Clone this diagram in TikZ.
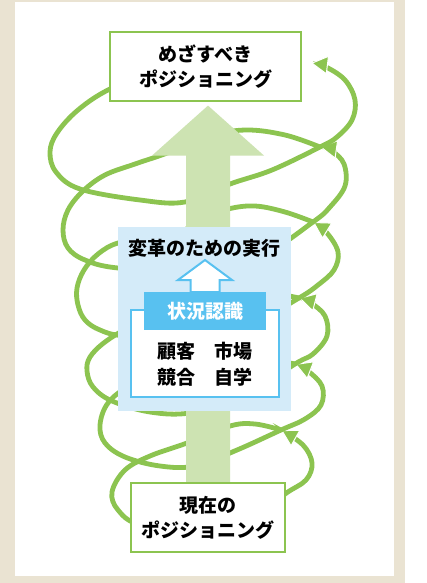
\documentclass[tikz,border=0pt]{standalone}
\usepackage{fontspec}
\setmainfont{Noto Sans CJK JP}
\usetikzlibrary{arrows.meta,calc}
\definecolor{beige}{RGB}{234,227,210}
\definecolor{coilgreen}{RGB}{140,196,80}
\definecolor{shaftgreen}{RGB}{205,227,178}
\definecolor{panelblue}{RGB}{212,235,249}
\definecolor{markblue}{RGB}{88,193,240}
\pgfdeclarelayer{frame}
\pgfdeclarelayer{back}
\pgfdeclarelayer{mid}
\pgfsetlayers{frame,back,mid,main}

\begin{document}
\begin{tikzpicture}[x=1pt, y=-1pt,
    txt/.style={font=\fontsize{19}{25}\selectfont\bfseries, align=center},
    posbox/.style={draw=coilgreen, line width=1.2pt, fill=white, minimum height=69pt, inner sep=0pt, txt},
    coil/.style={draw=coilgreen, line width=4.8pt,
      -{Triangle[color=white, fill=coilgreen, length=17pt, width=19pt, line width=1pt]}},
  ]
  \useasboundingbox (0,0) rectangle (426,583);

  % frame
  \begin{pgfonlayer}{frame}
    \fill[beige] (0,0) rectangle (405,583);
    \fill[white] (15,2) rectangle (394,576);
  \end{pgfonlayer}

  % Nodes
  \node[posbox, minimum width=191pt] at (205.5, 66.5) (goal) {めざすべき\\ポジショニング};
  \node[posbox, minimum width=154pt] at (208, 517.5) (now) {現在の\\ポジショニング};

  \node[fill=panelblue, minimum width=173pt, minimum height=184pt, inner sep=0pt] at (204.5, 319) (panel) {};
  \node[txt] at (204.5, 248) (exec) {変革のための実行};
  \node[draw=markblue, line width=2pt, fill=white, minimum width=148pt, minimum height=87pt, inner sep=0pt] at (205, 353.5) (scan) {};
  \node[txt, font=\fontsize{19}{26}\selectfont\bfseries] at (205, 364) (items) {顧客　市場\\競合　自学};
  % hollow arrow
  \draw[markblue, line width=2pt, fill=white, line join=miter]
    ($(panel.north |- 0,292)+(0.5,0)$) coordinate (sitTop)
    ($(sitTop)+(-14.5,0)$) -- ++(0,-12) -- ++(-12.5,0) -- ($(sitTop)+(0,-32)$)
    -- ($(sitTop)+(27,-12)$) -- ++(-12.5,0) -- ($(sitTop)+(14.5,0)$) -- cycle;
  \node[fill=markblue, text=white, txt, minimum width=122pt, minimum height=38pt, inner sep=0pt] at (205, 311) (sit) {状況認識};

  % junctions of the coil
  \coordinate (j1) at (281,430);
  \coordinate (j2) at (295,364);
  \coordinate (j3) at (299,298);
  \coordinate (j4) at (313,222);
  \coordinate (j5) at (320,147);
  \coordinate (j6) at (311,63);

  \begin{pgfonlayer}{back}
    \draw[coil] plot[smooth, tension=0.6] coordinates {(j1) (255,424) (230,426) (187,443) (150,456) (125,470) (112,492) (118,510) (140,525) (200,535) (255,518) (285,494) (306,480) (312,463) (303,445) (j1)};
    \draw[coil] plot[smooth, tension=0.6] coordinates {(j2) (265,360) (220,363) (170,372) (130,386) (108,403) (100,425) (105,443) (125,457) (160,466) (195,466) (237,450) (j1) (305,419) (321,405) (322,386) (308,371) (j2)};
    \draw[coil] plot[smooth, tension=0.6] coordinates {(j3) (265,293) (220,297) (170,310) (130,327) (105,342) (90,357) (87,371) (93,387) (112,401) (150,412) (190,413) (240,399) (j2) (313,354) (327,336) (325,316) (311,303) (j3)};
    \draw[coil] plot[smooth, tension=0.6] coordinates {(j4) (285,212) (255,206) (228,209) (205,218) (180,232) (150,239) (118,243) (98,254) (84,270) (77,288) (78,305) (85,320) (100,330) (125,336) (200,340) (255,322) (j3) (318,285) (334,270) (338,252) (327,233) (j4)};
    \draw[coil] plot[smooth, tension=0.6] coordinates {(j5) (285,135) (245,130) (205,137) (170,152) (135,164) (105,175) (83,191) (68,210) (63,230) (68,248) (85,260) (118,268) (200,272) (260,257) (j4) (330,207) (345,186) (344,164) (332,151) (j5)};
    \draw[coil] plot[smooth, tension=0.6] coordinates {(250,55) (160,70) (110,89) (78,110) (57,133) (50,152) (56,172) (80,189) (140,200) (185,202) (230,184) (272,170) (j5) (337,137) (352,120) (355,100) (345,80) (326,67) (j6)};
  \end{pgfonlayer}

  % big arrow
  \begin{pgfonlayer}{mid}
    \fill[shaftgreen] ($(now.north)+(-22,0)$) -- ($(now.north |- goal.south)+(-22,54)$) -- ++(-34,0)
      -- ($(now.north |- goal.south)+(0,4)$) -- ($(now.north |- goal.south)+(56,54)$) -- ++(-34,0)
      -- ($(now.north)+(22,0)$) -- cycle;
  \end{pgfonlayer}

\end{tikzpicture}
\end{document}
